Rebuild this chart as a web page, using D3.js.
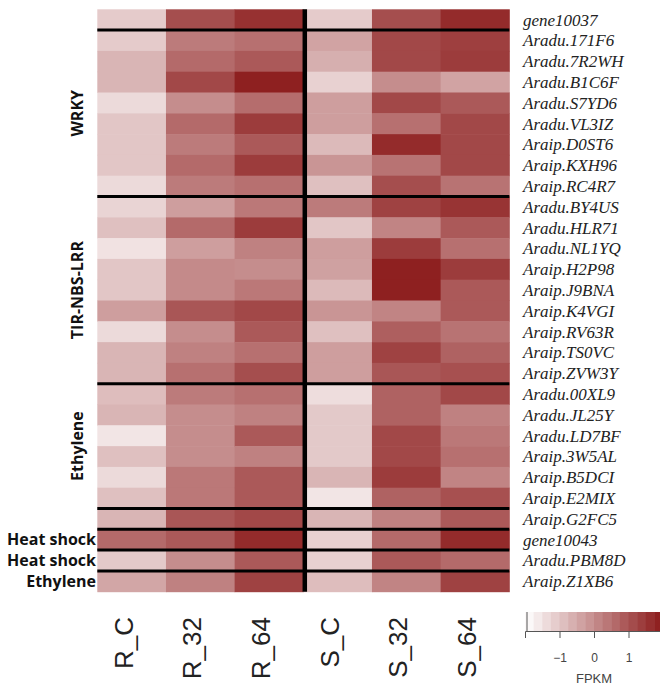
<!DOCTYPE html>
<html>
<head>
<meta charset="utf-8">
<script src="https://cdn.jsdelivr.net/npm/d3@7"></script>
<style>
  body { margin: 0; background: #fff; }
  svg { display: block; }
</style>
</head>
<body>
<svg id="chart" width="660" height="688"></svg>
<script>
// samples (columns) and genes (rows)
const columns = ["R_C", "R_32", "R_64", "S_C", "S_32", "S_64"];
const genes = [
    "gene10037", "Aradu.171F6", "Aradu.7R2WH", "Aradu.B1C6F", "Aradu.S7YD6",
    "Aradu.VL3IZ", "Araip.D0ST6", "Araip.KXH96", "Araip.RC4R7", "Aradu.BY4US",
    "Aradu.HLR71", "Aradu.NL1YQ", "Araip.H2P98", "Araip.J9BNA", "Araip.K4VGI",
    "Araip.RV63R", "Araip.TS0VC", "Araip.ZVW3Y", "Aradu.00XL9", "Aradu.JL25Y",
    "Aradu.LD7BF", "Araip.3W5AL", "Araip.B5DCI", "Araip.E2MIX", "Araip.G2FC5",
    "gene10043", "Aradu.PBM8D", "Araip.Z1XB6"
];

// scaled FPKM, one array per column, in gene order
const R_C  = [-1.1, -1.1, -0.7, -0.7, -1.35, -1.0, -1.0, -1.0, -1.35, -1.25, -0.9, -1.5, -1.0, -1.0, -0.3, -1.35, -0.7, -0.7, -0.85, -0.7, -1.55, -0.9, -1.35, -0.9, -0.7, 0.6, -1.05, -0.45];
const R_32 = [1.1, 0.3, 0.6, 1.2, 0.0, 0.6, 0.3, 0.6, 0.3, -0.3, 0.6, -0.3, 0.05, 0.05, 0.95, 0.0, 0.2, 0.5, 0.3, 0.0, 0.0, 0.0, 0.35, 0.35, 0.95, 0.9, 0.0, 0.2];
const R_64 = [1.6, 0.5, 0.9, 1.9, 0.55, 1.4, 0.9, 1.4, 0.5, 0.35, 1.4, 0.2, 0.0, 0.35, 1.2, 0.9, 0.5, 1.1, 0.5, 0.2, 0.9, 0.2, 0.9, 0.9, 1.2, 1.7, 0.9, 1.3];
const S_C  = [-1.1, -0.4, -0.6, -1.2, -0.3, -0.3, -0.8, -0.15, -0.9, 0.3, -1.0, -0.3, -0.35, -0.8, -0.15, -0.9, -0.3, -0.3, -1.4, -1.05, -1.05, -1.05, -0.7, -1.55, -0.7, -1.2, -1.2, -0.85];
const S_32 = [1.1, 1.2, 1.2, 0.0, 1.2, 0.5, 1.7, 0.45, 1.1, 1.3, 0.15, 1.4, 1.9, 1.9, 0.15, 0.8, 1.3, 0.95, 0.75, 0.75, 1.2, 1.2, 1.4, 0.75, 0.2, 0.6, 0.9, 0.15];
const S_64 = [1.7, 1.35, 1.4, -0.4, 0.9, 1.2, 1.2, 1.2, 0.45, 1.55, 0.9, 0.5, 1.4, 0.9, 0.9, 0.45, 0.75, 1.05, 1.2, 0.2, 0.35, 0.5, 0.15, 1.05, 0.9, 1.7, 0.6, 1.3];

// gene groups (first row, last row) and the rows that are followed by a separator
const groupNames = ["WRKY", "TIR-NBS-LRR", "Ethylene", "Heat shock", "Heat shock", "Ethylene"];
const groupRows = [[1, 8], [9, 17], [18, 23], [25, 25], [26, 26], [27, 27]];
const separatorRows = [0, 8, 17, 23, 24, 25, 26];

const legendTicks = [-1, 0, 1];

const columnValues = [R_C, R_32, R_64, S_C, S_32, S_64];

const svg = d3.select("#chart");

const x = d3.scaleBand().domain(columns).range([97.3, 509.3]);
const y = d3.scaleBand().domain(genes).range([9.3, 591.7]);
const color = d3.scaleLinear().domain([-2, 2]).range(["#ffffff", "#8b1a1a"]);

// cells
const cells = [];
columns.forEach((c, ci) => {
    genes.forEach((g, gi) => cells.push({ col: c, gene: g, value: columnValues[ci][gi] }));
});

svg.append("g")
    .selectAll("rect")
    .data(cells)
    .enter()
    .append("rect")
    .attr("x", d => x(d.col))
    .attr("y", d => y(d.gene))
    .attr("width", x.bandwidth() + 0.5)
    .attr("height", y.bandwidth() + 0.5)
    .attr("fill", d => color(d.value));

// separators
svg.append("g")
    .selectAll("line")
    .data(separatorRows)
    .enter()
    .append("line")
    .attr("x1", x.range()[0])
    .attr("x2", x.range()[1])
    .attr("y1", d => y(genes[d]) + y.bandwidth())
    .attr("y2", d => y(genes[d]) + y.bandwidth())
    .attr("stroke", "#000")
    .attr("stroke-width", 3);

svg.append("line")
    .attr("x1", x("S_C") + 1.5)
    .attr("x2", x("S_C") + 1.5)
    .attr("y1", y.range()[0])
    .attr("y2", y.range()[1])
    .attr("stroke", "#000")
    .attr("stroke-width", 4.5);

// gene labels
svg.append("g")
    .selectAll("text")
    .data(genes)
    .enter()
    .append("text")
    .attr("x", 523)
    .attr("y", d => y(d) + y.bandwidth() / 2)
    .attr("dy", "0.35em")
    .attr("font-family", "'Liberation Serif', 'Times New Roman', serif")
    .attr("font-style", "italic")
    .attr("font-size", 17)
    .attr("fill", "#222")
    .text(d => d);

// column labels
svg.append("g")
    .selectAll("text")
    .data(columns)
    .enter()
    .append("text")
    .attr("transform", d => `translate(${x(d) + x.bandwidth() / 2 + 1},617) rotate(-90)`)
    .attr("text-anchor", "end")
    .attr("font-family", "'Liberation Sans', Arial, sans-serif")
    .attr("font-size", 26)
    .attr("fill", "#222")
    .text(d => d);

// group labels
const groups = groupNames.map((name, i) => {
    const top = y(genes[groupRows[i][0]]);
    const bottom = y(genes[groupRows[i][1]]) + y.bandwidth();
    return { name, mid: (top + bottom) / 2, single: groupRows[i][0] === groupRows[i][1] };
});

svg.append("g")
    .selectAll("text")
    .data(groups)
    .enter()
    .append("text")
    .attr("transform", d => d.single
        ? `translate(96,${d.mid})`
        : `translate(83,${d.mid}) rotate(-90)`)
    .attr("text-anchor", d => d.single ? "end" : "middle")
    .attr("dy", d => d.single ? "0.35em" : 0)
    .attr("font-family", "'Open Sans', sans-serif")
    .attr("font-weight", "bold")
    .attr("font-size", 16)
    .attr("fill", "#111")
    .text(d => d.name);

// colour key
const key = d3.scaleLinear().domain([-2, 2]).range([525, 663]);
const steps = d3.range(-2, 2, 0.25);

svg.append("g")
    .selectAll("rect")
    .data(steps)
    .enter()
    .append("rect")
    .attr("x", d => key(d))
    .attr("y", 612)
    .attr("width", key(0.25) - key(0) + 0.5)
    .attr("height", 19)
    .attr("fill", d => color(d + 0.125));

svg.append("line")
    .attr("x1", 527).attr("x2", 527)
    .attr("y1", 612).attr("y2", 631)
    .attr("stroke", "#555");

const keyAxis = svg.append("g")
    .attr("transform", "translate(0,631)")
    .call(d3.axisBottom(key).tickValues(legendTicks).tickSize(7).tickPadding(15)
        .tickFormat(d3.format("d")));
keyAxis.select(".domain").attr("stroke", "#555");
keyAxis.selectAll(".tick line").attr("stroke", "#555");
keyAxis.selectAll(".tick text")
    .attr("font-family", "'Liberation Sans', Arial, sans-serif")
    .attr("font-size", 12)
    .attr("fill", "#444");

svg.append("text")
    .attr("x", key(0))
    .attr("y", 683)
    .attr("text-anchor", "middle")
    .attr("font-family", "'Liberation Sans', Arial, sans-serif")
    .attr("font-size", 13)
    .attr("fill", "#444")
    .text("FPKM");
</script>
</body>
</html>
